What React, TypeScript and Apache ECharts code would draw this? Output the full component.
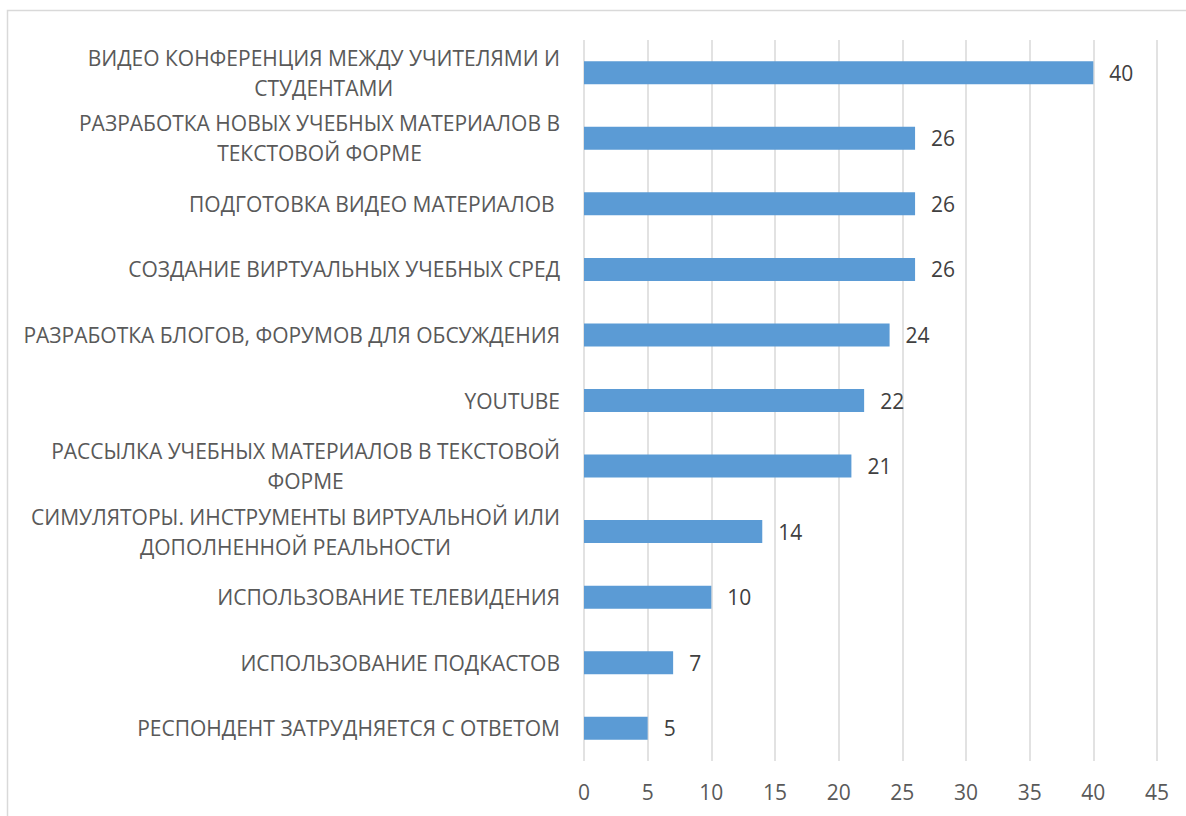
import React, { useEffect, useRef } from "react";
import * as echarts from "echarts";

const categories = [
  "ВИДЕО КОНФЕРЕНЦИЯ МЕЖДУ УЧИТЕЛЯМИ И\nСТУДЕНТАМИ",
  "РАЗРАБОТКА НОВЫХ УЧЕБНЫХ МАТЕРИАЛОВ В\nТЕКСТОВОЙ ФОРМЕ",
  "ПОДГОТОВКА ВИДЕО МАТЕРИАЛОВ ",
  "СОЗДАНИЕ ВИРТУАЛЬНЫХ УЧЕБНЫХ СРЕД",
  "РАЗРАБОТКА БЛОГОВ, ФОРУМОВ ДЛЯ ОБСУЖДЕНИЯ",
  "YOUTUBE",
  "РАССЫЛКА УЧЕБНЫХ МАТЕРИАЛОВ В ТЕКСТОВОЙ\nФОРМЕ",
  "СИМУЛЯТОРЫ. ИНСТРУМЕНТЫ ВИРТУАЛЬНОЙ ИЛИ\nДОПОЛНЕННОЙ РЕАЛЬНОСТИ",
  "ИСПОЛЬЗОВАНИЕ ТЕЛЕВИДЕНИЯ",
  "ИСПОЛЬЗОВАНИЕ ПОДКАСТОВ",
  "РЕСПОНДЕНТ ЗАТРУДНЯЕТСЯ С ОТВЕТОМ",
];
const values = [40, 26, 26, 26, 24, 22, 21, 14, 10, 7, 5];
const axisMin = 0;
const axisMax = 45;
const axisStep = 5;

export default function App() {
  const ref = useRef<HTMLDivElement>(null);
  useEffect(() => {
    const chart = echarts.init(ref.current!, null, { renderer: "svg" });
    const font = "Open Sans";
    const fs = 21;
    chart.setOption({
      animation: false,
      backgroundColor: "#ffffff",
      graphic: [
        {
          type: "rect",
          shape: { x: 7.5, y: 10.5, width: 1200, height: 900 },
          style: { fill: "none", stroke: "#d9d9d9", lineWidth: 1.5 },
          silent: true,
          z: -10,
        },
      ],
      grid: { left: 584, right: 29, top: 40, bottom: 55, containLabel: false },
      xAxis: {
        type: "value",
        min: axisMin,
        max: axisMax,
        interval: axisStep,
        axisLine: { show: false },
        axisTick: { show: false },
        splitLine: { show: true, lineStyle: { color: "#d9d9d9", width: 1.5 } },
        axisLabel: { color: "#595959", fontSize: fs, fontFamily: font, margin: 20 },
      },
      yAxis: {
        type: "category",
        data: categories,
        inverse: true,
        axisLine: { show: false },
        axisTick: { show: false },
        axisLabel: {
          color: "#595959",
          fontSize: fs,
          fontFamily: font,
          margin: 24,
          lineHeight: 30,
          align: "right",
          formatter: (v: string) =>
            v
              .split("\n")
              .map((line) => `{c|${line}}`)
              .join("\n"),
          rich: {
            c: {
              align: "center",
              color: "#595959",
              fontSize: fs,
              fontFamily: font,
              lineHeight: 30,
            },
          },
        },
      },
      series: [
        {
          type: "bar",
          data: values,
          barWidth: 23,
          itemStyle: { color: "#5b9bd5" },
          label: {
            show: true,
            position: "right",
            distance: 16,
            color: "#404040",
            fontSize: fs,
            fontFamily: font,
          },
        },
      ],
    });
    return () => chart.dispose();
  }, []);
  return (
    <div
      ref={ref}
      style={{ position: "fixed", left: 0, top: 0, width: 1186, height: 816 }}
    />
  );
}
